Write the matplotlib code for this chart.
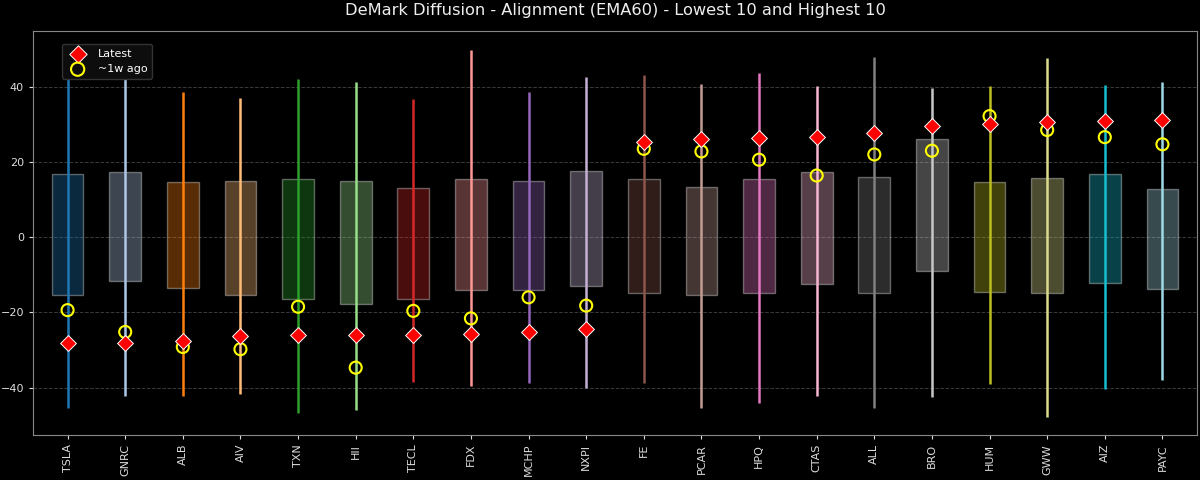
import matplotlib
matplotlib.use("Agg")
import matplotlib.pyplot as plt
import numpy as np

tickers = ["TSLA", "GNRC", "ALB", "AIV", "TXN", "HII", "TECL", "FDX", "MCHP", "NXPI",
           "FE", "PCAR", "HPQ", "CTAS", "ALL", "BRO", "HUM", "GWW", "AIZ", "PAYC"]
lo = [-45.5, -42.2, -42.2, -41.8, -46.8, -46.0, -38.6, -39.5, -38.8, -40.1,
      -38.8, -45.5, -44.0, -42.2, -45.5, -42.6, -39.0, -47.7, -40.4, -38.0]
hi = [42.5, 44.1, 38.5, 37.1, 42.0, 41.3, 36.7, 49.9, 38.7, 42.6,
      43.2, 40.7, 43.7, 40.3, 47.9, 39.7, 40.1, 47.6, 40.4, 41.4]
q25 = [-15.5, -11.7, -13.5, -15.5, -16.4, -17.7, -16.5, -14.1, -14.1, -13.1,
       -14.8, -15.4, -14.8, -12.4, -14.9, -9.0, -14.5, -14.9, -12.3, -13.9]
q75 = [16.7, 17.4, 14.6, 15.0, 15.5, 14.9, 13.2, 15.6, 15.0, 17.5,
       15.4, 13.4, 15.6, 17.4, 16.1, 26.0, 14.7, 15.7, 16.8, 12.7]
latest = [-28.2, -28.2, -27.6, -26.3, -26.0, -26.0, -25.9, -25.8, -25.1, -24.5,
          25.4, 26.0, 26.5, 26.6, 27.7, 29.7, 30.1, 30.6, 30.8, 31.2]
week_ago = [-19.4, -25.2, -29.2, -29.8, -18.5, -34.7, -19.6, -21.6, -16.0, -18.2,
            23.5, 22.8, 20.6, 16.4, 22.0, 23.0, 32.2, 28.5, 26.6, 24.7]

plt.style.use("dark_background")
fig, ax = plt.subplots(figsize=(12, 4.8), dpi=100)
fig.subplots_adjust(left=0.0275, right=0.9975, top=0.935, bottom=0.094)

colors = plt.get_cmap("tab20").colors
x = np.arange(len(tickers))

for i in x:
    c = colors[i % 20]
    ax.bar(i, q75[i] - q25[i], bottom=q25[i], width=0.55, color=c, alpha=0.35,
           edgecolor="white", linewidth=1.0, zorder=2)
    ax.vlines(i, lo[i], hi[i], color=c, linewidth=1.8, zorder=3)

ax.scatter(x, latest, marker="D", s=65, color="red", edgecolor="white",
           linewidth=0.7, zorder=5, label="Latest")
ax.scatter(x, week_ago, marker="o", s=75, facecolor="none", edgecolor="yellow",
           linewidth=1.5, zorder=4, label="~1w ago")

ax.set_xticks(x)
ax.set_xticklabels(tickers, rotation=90)
ax.tick_params(labelsize=8, colors="#dddddd", length=3)
ax.set_xlim(-0.6, len(tickers) - 0.4)
ax.grid(axis="y", linestyle="--", color="gray", alpha=0.45, linewidth=0.7)
ax.set_axisbelow(True)
for s in ax.spines.values():
    s.set_color("#888888")
ax.set_title("DeMark Diffusion - Alignment (EMA60) - Lowest 10 and Highest 10",
             fontsize=11.7, color="#eeeeee", pad=12)
ax.legend(loc="upper left", bbox_to_anchor=(0.025, 0.968), borderaxespad=0,
          fontsize=8, markerscale=1.1, facecolor="#0d0d0d", edgecolor="#333333",
          framealpha=1)

fig.savefig("out.png")
